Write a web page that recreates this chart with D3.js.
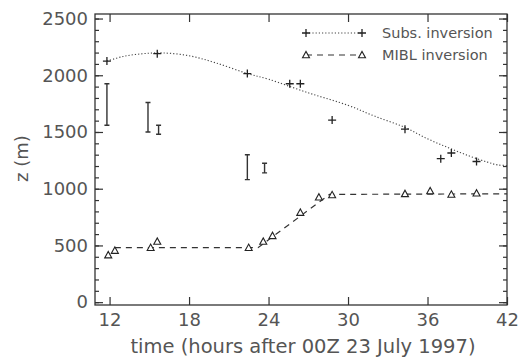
<!DOCTYPE html>
<html>
<head>
<meta charset="utf-8">
<script src="https://cdnjs.cloudflare.com/ajax/libs/d3/7.8.5/d3.min.js"></script>
<style>
  body { margin: 0; background: #fff; }
  svg { display: block; }
  .axis path, .axis line { stroke: #333; stroke-width: 1.2; }
  .axis text { font-family: "DejaVu Sans", sans-serif; font-size: 18px; fill: #555; }
  .label { font-family: "DejaVu Sans", sans-serif; fill: #555; }
</style>
</head>
<body>
<script>
// subsidence inversion soundings
var subsTime   = [11.8, 15.6, 22.4, 25.6, 26.4, 28.8, 34.3, 37.0, 37.8, 39.7];
var subsHeight = [2125, 2190, 2015, 1925, 1925, 1605, 1525, 1265, 1315, 1240];

// dotted fit through the subsidence inversion
var subsFitTime   = [11.8, 13, 14.5, 16, 18, 20, 22.4, 24, 27, 30, 32, 34.3, 36, 37.5, 39, 40.5, 41.3, 42];
var subsFitHeight = [2125, 2165, 2190, 2197, 2172, 2110, 2015, 1965, 1845, 1735, 1640, 1540, 1440, 1365, 1295, 1235, 1210, 1205];

// MIBL inversion soundings
var miblTime   = [11.9, 12.4, 15.1, 15.6, 22.5, 23.6, 24.3, 26.4, 27.8, 28.8, 34.3, 36.2, 37.8, 39.7];
var miblHeight = [415, 455, 480, 535, 480, 535, 585, 790, 925, 945, 955, 980, 950, 960];

// dashed fit through the MIBL inversion
var miblFitTime   = [12.4, 23.2, 28.6, 42];
var miblFitHeight = [480, 480, 950, 955];

// vertical range bars
var barTime = [11.8, 14.9, 15.7, 22.4, 23.7];
var barLow  = [1560, 1500, 1480, 1080, 1140];
var barHigh = [1925, 1760, 1560, 1300, 1225];

var xTicks = [12, 18, 24, 30, 36, 42];
var yTicks = [0, 500, 1000, 1500, 2000, 2500];
var yMinor = d3.range(0, 2600, 100);

var margin = {top: 14, right: 11, bottom: 54, left: 95},
    width = 518 - margin.left - margin.right,
    height = 359 - margin.top - margin.bottom;

var x = d3.scaleLinear().domain([10.9, 42]).range([0, width]);
var y = d3.scaleLinear().domain([-25, 2540]).range([height, 0]);

var svg = d3.select("body").append("svg")
    .attr("width", width + margin.left + margin.right)
    .attr("height", height + margin.top + margin.bottom)
  .append("g")
    .attr("transform", "translate(" + margin.left + "," + margin.top + ")");

// axes with inward ticks
svg.append("g")
    .attr("class", "x axis")
    .attr("transform", "translate(0," + height + ")")
    .call(d3.axisBottom(x).tickValues(xTicks).tickSize(-8).tickPadding(8).tickSizeOuter(0).tickFormat(d3.format("d")));

svg.append("g")
    .attr("class", "x axis")
    .call(d3.axisTop(x).tickValues(xTicks).tickSize(-8).tickSizeOuter(0).tickFormat(""));

svg.append("g")
    .attr("class", "y axis")
    .call(d3.axisLeft(y).tickValues(yTicks).tickSize(-8).tickPadding(7).tickSizeOuter(0).tickFormat(d3.format("d")));

svg.append("g")
    .attr("class", "y axis")
    .call(d3.axisLeft(y).tickValues(yMinor).tickSize(-4).tickSizeOuter(0).tickFormat(""));

svg.append("g")
    .attr("class", "y axis")
    .attr("transform", "translate(" + width + ",0)")
    .call(d3.axisRight(y).tickValues(yTicks).tickSize(-8).tickSizeOuter(0).tickFormat(""));

svg.append("g")
    .attr("class", "y axis")
    .attr("transform", "translate(" + width + ",0)")
    .call(d3.axisRight(y).tickValues(yMinor).tickSize(-4).tickSizeOuter(0).tickFormat(""));

svg.selectAll(".axis .domain").remove();

svg.append("rect")
    .attr("width", width)
    .attr("height", height)
    .style("fill", "none")
    .style("stroke", "#333")
    .style("stroke-width", 1.3);

var plus = "M-4,0H4M0,-4V4";
var tri = "M-3.5,2.8L0,-3.6L3.5,2.8Z";

// fitted curves
var subsFit = subsFitTime.map(function(t, i) { return [t, subsFitHeight[i]]; });
var miblFit = miblFitTime.map(function(t, i) { return [t, miblFitHeight[i]]; });

svg.append("path")
    .datum(subsFit)
    .attr("d", d3.line()
        .curve(d3.curveCatmullRom)
        .x(function(d) { return x(d[0]); })
        .y(function(d) { return y(d[1]); }))
    .style("fill", "none")
    .style("stroke", "#444")
    .style("stroke-width", 1.1)
    .style("stroke-dasharray", "1.2,2");

svg.append("path")
    .datum(miblFit)
    .attr("d", d3.line()
        .x(function(d) { return x(d[0]); })
        .y(function(d) { return y(d[1]); }))
    .style("fill", "none")
    .style("stroke", "#333")
    .style("stroke-width", 1.2)
    .style("stroke-dasharray", "6,5");

// range bars
svg.selectAll(".bar")
    .data(barTime.map(function(t, i) { return {t: t, lo: barLow[i], hi: barHigh[i]}; }))
  .enter().append("path")
    .attr("class", "bar")
    .attr("d", function(d) {
      var cx = x(d.t), y0 = y(d.lo), y1 = y(d.hi);
      return "M" + (cx - 2.5) + "," + y1 + "H" + (cx + 2.5) +
             "M" + cx + "," + y1 + "V" + y0 +
             "M" + (cx - 2.5) + "," + y0 + "H" + (cx + 2.5);
    })
    .style("fill", "none")
    .style("stroke", "#333")
    .style("stroke-width", 1.4);

// markers
svg.selectAll(".subs")
    .data(subsTime.map(function(t, i) { return [t, subsHeight[i]]; }))
  .enter().append("path")
    .attr("class", "subs")
    .attr("transform", function(d) { return "translate(" + x(d[0]) + "," + y(d[1]) + ")"; })
    .attr("d", plus)
    .style("stroke", "#222")
    .style("stroke-width", 1.3);

svg.selectAll(".mibl")
    .data(miblTime.map(function(t, i) { return [t, miblHeight[i]]; }))
  .enter().append("path")
    .attr("class", "mibl")
    .attr("transform", function(d) { return "translate(" + x(d[0]) + "," + y(d[1]) + ")"; })
    .attr("d", tri)
    .style("fill", "#fff")
    .style("stroke", "#222")
    .style("stroke-width", 1.1);

// legend
var legend = svg.append("g")
    .attr("transform", "translate(" + (306 - margin.left) + "," + (33 - margin.top) + ")");

legend.append("line")
    .attr("x1", 0).attr("x2", 56).attr("y1", 0).attr("y2", 0)
    .style("stroke", "#444").style("stroke-width", 1.1).style("stroke-dasharray", "1.2,2");
legend.selectAll(".lp").data([0, 56]).enter().append("path")
    .attr("transform", function(d) { return "translate(" + d + ",0)"; })
    .attr("d", plus).style("stroke", "#222").style("stroke-width", 1.3);
legend.append("text")
    .attr("class", "label")
    .attr("x", 76).attr("y", 5)
    .style("font-size", "14.5px")
    .text("Subs. inversion");

legend.append("line")
    .attr("x1", 0).attr("x2", 56).attr("y1", 22).attr("y2", 22)
    .style("stroke", "#333").style("stroke-width", 1.2).style("stroke-dasharray", "6,5");
legend.selectAll(".lt").data([0, 56]).enter().append("path")
    .attr("transform", function(d) { return "translate(" + d + ",22)"; })
    .attr("d", tri).style("fill", "#fff").style("stroke", "#222").style("stroke-width", 1.1);
legend.append("text")
    .attr("class", "label")
    .attr("x", 76).attr("y", 27)
    .style("font-size", "14.5px")
    .text("MIBL inversion");

// axis titles
svg.append("text")
    .attr("class", "label")
    .attr("x", width / 2 + 2)
    .attr("y", height + 48)
    .style("text-anchor", "middle")
    .style("font-size", "19.5px")
    .text("time (hours after 00Z 23 July 1997)");

svg.append("text")
    .attr("class", "label")
    .attr("transform", "rotate(-90)")
    .attr("x", -height / 2 + 1)
    .attr("y", -67)
    .style("text-anchor", "middle")
    .style("font-size", "18px")
    .text("z (m)");
</script>
</body>
</html>
